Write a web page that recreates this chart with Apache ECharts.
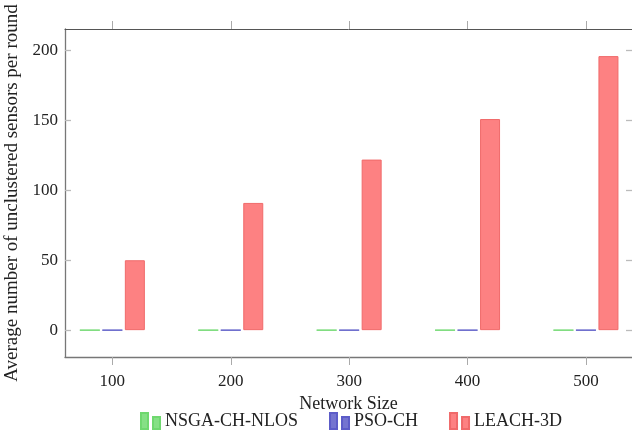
<!DOCTYPE html>
<html>
<head>
<meta charset="utf-8">
<script src="https://cdn.jsdelivr.net/npm/echarts@6/dist/echarts.min.js"></script>
<style>html,body{margin:0;padding:0;background:#fff;}#c{width:632px;height:433px;}</style>
</head>
<body>
<div id="c"></div>
<script>
var networkSizes = [100, 200, 300, 400, 500];
var nsgaValues = [0, 0, 0, 0, 0];
var psoValues = [0, 0, 0, 0, 0];
var leachValues = [50, 91, 122, 151, 196];
var yTicks = [0, 50, 100, 150, 200];
var seriesNames = ['NSGA-CH-NLOS', 'PSO-CH', 'LEACH-3D'];

function pairs(vals) { return networkSizes.map(function (x, i) { return [x, vals[i]]; }); }

var font = 'Liberation Serif';
var icon = 'path://M0,0h7v16h-7z M12,4h7v12h-7z';
var colors = ['#85e085', '#7474d0', '#fd8182'];
var borders = ['#6fd86f', '#5c5cc8', '#f06a6a'];

var chart = echarts.init(document.getElementById('c'), null, { renderer: 'canvas' });
chart.setOption({
  animation: false,
  backgroundColor: '#fff',
  textStyle: { fontFamily: font },
  grid: { left: 65, top: 29, width: 567, height: 328, containLabel: false, outerBoundsMode: 'none' },
  legend: {
    top: 407, left: 135, padding: 5,
    icon: icon, itemWidth: 19, itemHeight: 16, itemGap: 31,
    textStyle: { fontFamily: font, fontSize: 18, color: '#222' },
    data: seriesNames.map(function (n) { return { name: n, icon: icon }; })
  },
  xAxis: [{
    type: 'value', min: 60, max: 538.9, position: 'bottom',
    name: 'Network Size', nameLocation: 'middle', nameGap: 37,
    nameTextStyle: { fontFamily: font, fontSize: 18, color: '#222' },
    axisLine: { show: true, onZero: false, lineStyle: { color: '#777', width: 1.3 } },
    axisTick: { show: true, inside: false, length: 8, customValues: networkSizes, lineStyle: { color: '#aaa' } },
    axisLabel: { customValues: networkSizes, fontFamily: font, fontSize: 17, color: '#222', margin: 16 },
    splitLine: { show: false }
  }, {
    type: 'value', min: 60, max: 538.9, position: 'top',
    axisLine: { show: true, onZero: false, lineStyle: { color: '#555', width: 1 } },
    axisTick: { show: true, inside: false, length: 8, customValues: networkSizes, lineStyle: { color: '#aaa' } },
    axisLabel: { show: false },
    splitLine: { show: false }
  }],
  yAxis: [{
    type: 'value', min: -19.2, max: 215.4, position: 'left',
    name: 'Average number of unclustered sensors per round', nameLocation: 'middle', nameGap: 41,
    nameTextStyle: { fontFamily: font, fontSize: 19, color: '#222' },
    axisLine: { show: true, onZero: false, lineStyle: { color: '#777', width: 1.3 } },
    axisTick: { show: true, inside: true, length: 6, customValues: yTicks, lineStyle: { color: '#bbb', width: 1.3 } },
    axisLabel: { customValues: yTicks, fontFamily: font, fontSize: 17, color: '#222', margin: 7 },
    splitLine: { show: false }
  }, {
    type: 'value', min: -19.2, max: 215.4, position: 'right',
    axisLine: { show: false },
    axisTick: { show: true, inside: true, length: 6, customValues: yTicks, lineStyle: { color: '#bbb', width: 1.3 } },
    axisLabel: { show: false },
    splitLine: { show: false }
  }],
  series: [nsgaValues, psoValues, leachValues].map(function (vals, i) {
    return {
      name: seriesNames[i], type: 'bar', xAxisIndex: 0, yAxisIndex: 0,
      barWidth: 20, barGap: '12.5%',
      data: pairs(vals),
      itemStyle: { color: colors[i], borderColor: borders[i], borderWidth: 1 }
    };
  })
});
</script>
</body>
</html>
